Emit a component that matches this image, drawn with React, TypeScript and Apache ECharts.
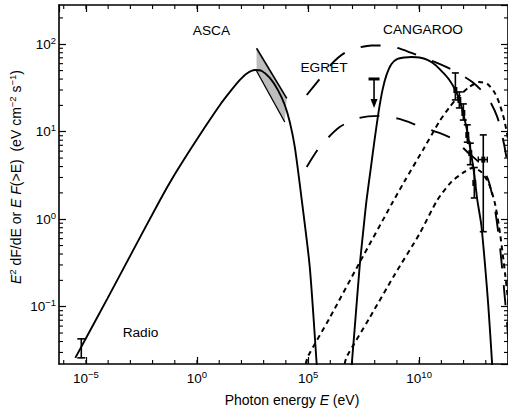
import React, { useEffect, useRef } from 'react';
import * as echarts from 'echarts';

const FONT = '"Liberation Sans", Arial, Helvetica, sans-serif';

// Axis ranges: photon energy (eV) and flux (eV cm^-2 s^-1)
const energyRange: [number, number] = [6.13e-7, 1e14];
const fluxRange: [number, number] = [0.02213, 281];

// Radio measurement: energy, flux, lower and upper error
const radioPoint = { e: 6.18e-6, f: 0.0338, lo: 0.026, hi: 0.0429 };

// Synchrotron curve (solid)
const synchrotron: [number, number][] = [
  [3.33e-6, 0.026], [9.1e-5, 0.123], [9.8e-4, 0.381], [0.0218, 1.66], [0.103, 3.3],
  [0.485, 6.19], [2.29, 11.3], [10.8, 20.2], [30.3, 28.5], [85.3, 39.1], [176, 46.4],
  [402, 50.8], [829, 49.5], [1900, 41.2], [4340, 30.1], [8940, 20.2], [1.5e4, 12.9],
  [2.52e4, 6.7], [5.19e4, 1.66], [1.19e5, 0.285], [2.44e5, 0.0222], [2.71e5, 0.0146],
];

// ASCA band edges
const ascaUpper: [number, number][] = [[480, 90.0], [1.1e4, 24.1]];
const ascaLower: [number, number][] = [[480, 49.5], [8940, 12.9]];

// EGRET upper limit
const egretLimit = { e: 9.33e7, f: 40.1, arrowTo: 18.7 };

// Gamma-ray model curves
const solidGamma: [number, number][] = [
  [8.67e6, 0.018], [1.24e7, 0.0543], [2.09e7, 0.285], [3.15e7, 0.796], [4.3e7, 1.66],
  [6.51e7, 3.66], [9.84e7, 8.06], [1.49e8, 16.8], [2.25e8, 30.1], [3.4e8, 44.6],
  [5.7e8, 59.6], [1.06e9, 67.9], [2.19e9, 70.6], [4.51e9, 71.6], [1.03e10, 70.6],
  [2.36e10, 66.2], [5.4e10, 58.0], [1.23e11, 47.0], [2.29e11, 39.1], [4.27e11, 30.0],
  [6.45e11, 23.1], [9.76e11, 16.0], [1.47e12, 9.95], [2.23e12, 5.43], [3.04e12, 3.21],
  [4.15e12, 1.66], [6.28e12, 0.861], [9.49e12, 0.277], [1.29e13, 0.105],
  [1.76e13, 0.0321], [2.06e13, 0.0166],
];
const dashedUpper: [number, number][] = [
  [8.7e4, 26.3], [3.33e5, 40.1], [1.15e6, 59.6], [4.43e6, 79.6], [1.7e7, 90.8],
  [7.21e7, 96.9], [2.77e8, 96.9], [1.06e9, 90.8], [4.51e9, 79.6], [1.73e10, 69.7],
  [8.16e10, 59.6], [3.85e11, 49.5], [2.47e12, 37.0], [1.17e13, 25.0], [3.28e13, 14.8],
  [6.76e13, 7.06], [1.13e14, 3.21],
];
const dashedLower: [number, number][] = [
  [8.7e4, 3.96], [3.33e5, 6.7], [2.64e6, 11.3], [2.09e7, 14.4], [1.65e8, 15.2],
  [1.3e9, 14.0], [1.03e10, 11.6], [8.16e10, 9.68], [3.85e11, 8.06], [1.47e12, 5.87],
  [5.1e12, 4.4], [1.29e13, 2.81], [2.4e13, 1.46], [4.03e13, 0.579], [6.1e13, 0.202],
  [9.22e13, 0.0618], [1.26e14, 0.0216],
];
const dottedUpper: [number, number][] = [
  [7.84e4, 0.0222], [9.64e4, 0.0267], [9.38e5, 0.0745], [2.09e7, 0.32], [6.32e8, 1.55],
  [2.19e9, 2.71], [1.73e10, 6.62], [8.16e10, 13.1], [2.29e11, 19.0], [6.45e11, 25.7],
  [1.82e12, 32.5], [5.1e12, 37.0], [1.17e13, 35.2], [2.4e13, 28.5], [4.03e13, 21.3],
  [6.76e13, 13.7], [1.13e14, 7.06],
];
const dottedLower: [number, number][] = [
  [4.43e6, 0.0222], [5.45e6, 0.0267], [5.87e7, 0.0745], [7.78e8, 0.231], [1.03e10, 0.679],
  [6.64e10, 1.66], [2.82e11, 2.67], [1.08e12, 3.47], [2.47e12, 3.86], [6.28e12, 3.47],
  [1.44e13, 2.47], [2.67e13, 1.46], [4.48e13, 0.661], [7.5e13, 0.231], [1.26e14, 0.0705],
];

// CANGAROO points
const cangarooE = [4.27e11, 6.45e11, 9.76e11, 1.47e12, 2.01e12, 3.04e12, 7.71e12];
const cangarooF = [30.0, 23.1, 16.4, 9.2, 5.7, 2.6, 4.8];
const cangarooLo = [23.1, 18.7, 13.6, 7.6, 4.2, 1.75, 0.72];
const cangarooHi = [47.0, 28.5, 20.8, 12.0, 7.4, 3.9, 9.2];
const cangarooELo = [0, 0, 0, 0, 0, 0, 4.6e12];
const cangarooEHi = [0, 0, 0, 0, 0, 0, 1.17e13];

// Annotation labels
const labels = [
  { text: 'ASCA', x: 211.5, y: 30 },
  { text: 'EGRET', x: 324, y: 67.5 },
  { text: 'CANGAROO', x: 423, y: 29 },
  { text: 'Radio', x: 140.5, y: 332 },
];

const BLACK = '#000';

function supLabel(v: number) {
  const e = Math.round(Math.log10(v));
  return `{b|10}{s|${e < 0 ? '\u2212' + -e : e}}`;
}

const tickRich = {
  b: { fontSize: 13.5, fontFamily: FONT, color: BLACK, lineHeight: 18 },
  s: { fontSize: 9.5, fontFamily: FONT, color: BLACK, lineHeight: 8, verticalAlign: 'top' },
};

const titleRich = {
  i: { fontSize: 14, fontFamily: FONT, fontStyle: 'italic', fill: BLACK, lineHeight: 18 },
  s: { fontSize: 9.5, fontFamily: FONT, fill: BLACK, lineHeight: 8, verticalAlign: 'top' },
};

// Minor tick positions: each decade in energy, 2..9 in flux
const minorTicks: number[][] = [];
for (let k = -6; k <= 14; k++) {
  const v = Math.pow(10, k);
  if (v > energyRange[0] && v < energyRange[1]) minorTicks.push([v, fluxRange[0], 0]);
}
for (let k = -2; k <= 2; k++) {
  for (let m = 2; m <= 9; m++) {
    const v = m * Math.pow(10, k);
    if (v > fluxRange[0] && v < fluxRange[1]) minorTicks.push([energyRange[0], v, 1]);
  }
}

function lineSeries(data: [number, number][], dash: any, width = 1.8) {
  return {
    type: 'line',
    data,
    symbol: 'none',
    smooth: 0.25,
    clip: true,
    silent: true,
    lineStyle: { color: BLACK, width, type: dash, cap: 'butt' },
    z: 3,
  };
}

function buildOption(): any {
  const stroke = (w = 1.5) => ({ stroke: BLACK, lineWidth: w, fill: null });
  return {
    animation: false,
    backgroundColor: '#fff',
    grid: { left: 59, top: 5, width: 450, height: 359, containLabel: false },
    xAxis: [
      {
        type: 'log', logBase: 1e5, min: energyRange[0], max: energyRange[1], position: 'bottom',
        axisLine: { show: true, lineStyle: { color: BLACK, width: 1.6 } },
        axisTick: { show: true, inside: true, length: 7, lineStyle: { color: BLACK, width: 1.2 } },
        axisLabel: { show: true, margin: 5, showMinLabel: false, showMaxLabel: false, formatter: supLabel, rich: tickRich },
        splitLine: { show: false },
      },
      {
        type: 'log', logBase: 1e5, min: energyRange[0], max: energyRange[1], position: 'top',
        axisLine: { show: true, lineStyle: { color: BLACK, width: 1.6 } },
        axisTick: { show: true, inside: true, length: 7, lineStyle: { color: BLACK, width: 1.2 } },
        axisLabel: { show: false },
        splitLine: { show: false },
      },
    ],
    yAxis: [
      {
        type: 'log', logBase: 10, min: fluxRange[0], max: fluxRange[1], position: 'left',
        axisLine: { show: true, lineStyle: { color: BLACK, width: 1.6 } },
        axisTick: { show: true, inside: true, length: 7, lineStyle: { color: BLACK, width: 1.2 } },
        axisLabel: { show: true, margin: 3, showMinLabel: false, showMaxLabel: false, formatter: supLabel, rich: tickRich },
        splitLine: { show: false },
      },
      {
        type: 'log', logBase: 10, min: fluxRange[0], max: fluxRange[1], position: 'right',
        axisLine: { show: true, lineStyle: { color: BLACK, width: 1.6 } },
        axisTick: { show: true, inside: true, length: 7, lineStyle: { color: BLACK, width: 1.2 } },
        axisLabel: { show: false },
        splitLine: { show: false },
      },
    ],
    graphic: [
      ...labels.map((l) => ({
        type: 'text', x: l.x, y: l.y, silent: true,
        style: { text: l.text, fontSize: 13.7, fontFamily: FONT, fill: BLACK, align: 'center', verticalAlign: 'middle' },
      })),
      {
        type: 'text', x: 292, y: 400, silent: true,
        style: {
          text: 'Photon energy {i|E} (eV)', rich: titleRich, fontSize: 14, fontFamily: FONT, fill: BLACK,
          lineHeight: 18, align: 'center', verticalAlign: 'middle',
        },
      },
      {
        type: 'text', x: 16, y: 177, rotation: Math.PI / 2, silent: true,
        style: {
          text: '{i|E}{s|2} dF/dE or {i|E} {i|F}(>E)  (eV cm{s|\u22122} s{s|\u22121})', rich: titleRich,
          fontSize: 14, fontFamily: FONT, fill: BLACK, lineHeight: 18, align: 'center', verticalAlign: 'middle',
        },
      },
    ],
    series: [
      {
        // minor ticks drawn through the axis scales
        type: 'custom', silent: true, data: minorTicks, encode: { x: 0, y: 1 }, z: 5,
        renderItem: (_p: any, api: any) => {
          const kind = api.value(2);
          if (kind === 0) {
            const v = api.value(0);
            const b = api.coord([v, fluxRange[0]]);
            const t = api.coord([v, fluxRange[1]]);
            return {
              type: 'group', children: [
                { type: 'line', shape: { x1: b[0], y1: b[1], x2: b[0], y2: b[1] - 4 }, style: stroke(1.1) },
                { type: 'line', shape: { x1: t[0], y1: t[1], x2: t[0], y2: t[1] + 4 }, style: stroke(1.1) },
              ],
            };
          }
          const v = api.value(1);
          const l = api.coord([energyRange[0], v]);
          const r = api.coord([energyRange[1], v]);
          return {
            type: 'group', children: [
              { type: 'line', shape: { x1: l[0], y1: l[1], x2: l[0] + 4, y2: l[1] }, style: stroke(1.1) },
              { type: 'line', shape: { x1: r[0], y1: r[1], x2: r[0] - 4, y2: r[1] }, style: stroke(1.1) },
            ],
          };
        },
      },
      {
        // ASCA band
        type: 'custom', silent: true, data: [[ascaLower[0][0], ascaLower[0][1]]], z: 2,
        renderItem: (_p: any, api: any) => {
          const u0 = api.coord(ascaUpper[0]);
          const u1 = api.coord(ascaUpper[1]);
          const l0 = api.coord(ascaLower[0]);
          const l1 = api.coord(ascaLower[1]);
          return {
            type: 'group', children: [
              { type: 'polygon', shape: { points: [u0, u1, l1, l0] }, style: { fill: '#bdbdbd', stroke: null } },
              { type: 'line', shape: { x1: u0[0], y1: u0[1], x2: u1[0], y2: u1[1] }, style: stroke(1.6) },
              { type: 'line', shape: { x1: l0[0], y1: l0[1], x2: l1[0], y2: l1[1] }, style: stroke(1.3) },
            ],
          };
        },
      },
      lineSeries(synchrotron, 'solid', 1.9),
      lineSeries(solidGamma, 'solid', 1.9),
      lineSeries(dashedUpper, [20, 17], 1.9),
      lineSeries(dashedLower, [20, 17], 1.9),
      lineSeries(dottedUpper, [5, 4], 2),
      lineSeries(dottedLower, [5, 4], 2),
      {
        // radio error bar
        type: 'custom', silent: true, data: [[radioPoint.e, radioPoint.f, radioPoint.lo, radioPoint.hi]], z: 4,
        renderItem: (_p: any, api: any) => {
          const hi = api.coord([api.value(0), api.value(3)]);
          const lo = api.coord([api.value(0), api.value(2)]);
          return {
            type: 'group', children: [
              { type: 'line', shape: { x1: hi[0], y1: hi[1], x2: lo[0], y2: lo[1] }, style: stroke(1.6) },
              { type: 'line', shape: { x1: hi[0] - 4, y1: hi[1], x2: hi[0] + 4, y2: hi[1] }, style: stroke(1.6) },
              { type: 'line', shape: { x1: lo[0] - 4, y1: lo[1], x2: lo[0] + 4, y2: lo[1] }, style: stroke(1.6) },
            ],
          };
        },
      },
      {
        // EGRET upper limit
        type: 'custom', silent: true, data: [[egretLimit.e, egretLimit.f, egretLimit.arrowTo]], z: 4,
        renderItem: (_p: any, api: any) => {
          const top = api.coord([api.value(0), api.value(1)]);
          const tip = api.coord([api.value(0), api.value(2)]);
          return {
            type: 'group', children: [
              { type: 'line', shape: { x1: top[0] - 5.5, y1: top[1], x2: top[0] + 5.5, y2: top[1] }, style: stroke(3) },
              { type: 'line', shape: { x1: top[0], y1: top[1], x2: tip[0], y2: tip[1] - 6 }, style: stroke(1.6) },
              {
                type: 'polygon',
                shape: { points: [[tip[0] - 3.5, tip[1] - 9], [tip[0] + 3.5, tip[1] - 9], [tip[0], tip[1]]] },
                style: { fill: BLACK },
              },
            ],
          };
        },
      },
      {
        // CANGAROO points with error bars
        type: 'custom', silent: true, z: 6,
        data: cangarooE.map((e, i) => [e, cangarooF[i], cangarooLo[i], cangarooHi[i], cangarooELo[i], cangarooEHi[i]]),
        renderItem: (_p: any, api: any) => {
          const e = api.value(0);
          const c = api.coord([e, api.value(1)]);
          const hi = api.coord([e, api.value(3)]);
          const lo = api.coord([e, api.value(2)]);
          const children: any[] = [
            { type: 'line', shape: { x1: c[0], y1: hi[1], x2: c[0], y2: lo[1] }, style: stroke(1.6) },
            { type: 'line', shape: { x1: c[0] - 3.5, y1: hi[1], x2: c[0] + 3.5, y2: hi[1] }, style: stroke(1.6) },
            { type: 'line', shape: { x1: c[0] - 3.5, y1: lo[1], x2: c[0] + 3.5, y2: lo[1] }, style: stroke(1.6) },
            { type: 'rect', shape: { x: c[0] - 2, y: c[1] - 3, width: 4, height: 6 }, style: { fill: BLACK } },
          ];
          const eLo = api.value(4);
          const eHi = api.value(5);
          if (eLo > 0 && eHi > 0) {
            const a = api.coord([eLo, api.value(1)]);
            const b = api.coord([eHi, api.value(1)]);
            children.push(
              { type: 'line', shape: { x1: a[0], y1: a[1], x2: b[0], y2: b[1] }, style: stroke(1.6) },
              { type: 'line', shape: { x1: a[0], y1: a[1] - 3, x2: a[0], y2: a[1] + 3 }, style: stroke(1.4) },
              { type: 'line', shape: { x1: b[0], y1: b[1] - 3, x2: b[0], y2: b[1] + 3 }, style: stroke(1.4) },
            );
          }
          return { type: 'group', children };
        },
      },
    ],
  };
}

export default function App() {
  const ref = useRef<HTMLDivElement>(null);
  useEffect(() => {
    if (!ref.current) return;
    const chart = echarts.init(ref.current, undefined, { renderer: 'svg' });
    chart.setOption(buildOption());
    return () => chart.dispose();
  }, []);
  return (
    <div
      ref={ref}
      style={{ position: 'fixed', left: 0, top: 0, width: 508, height: 413, background: '#fff' }}
    />
  );
}
